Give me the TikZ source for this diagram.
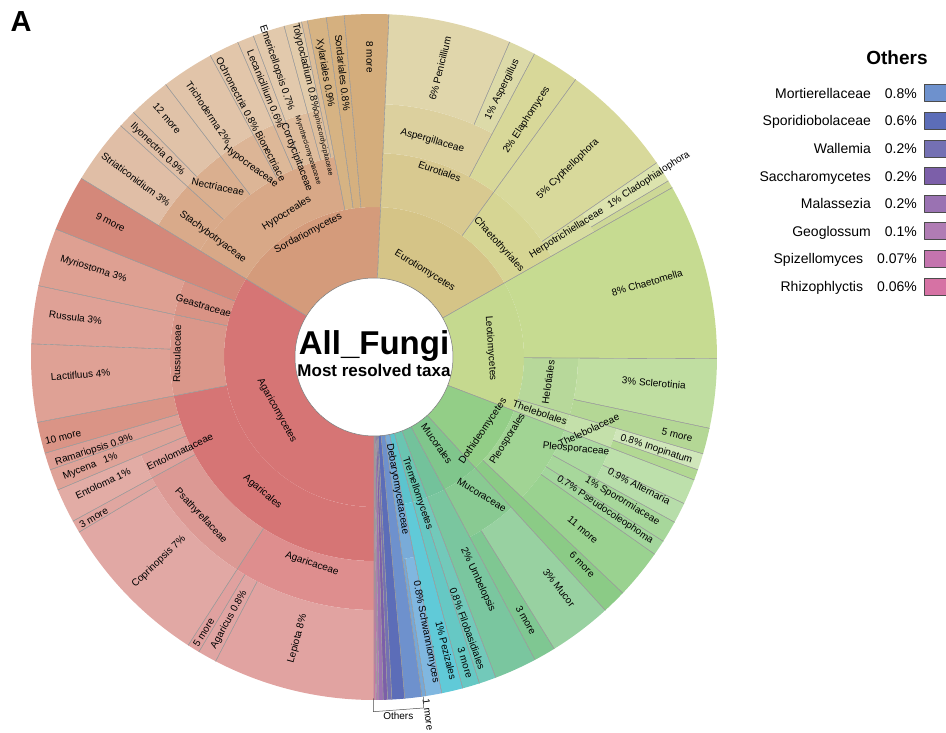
\documentclass[tikz,border=0pt]{standalone}
\usepackage{fontspec}
\setmainfont{Liberation Sans}
\begin{document}
\begin{tikzpicture}[x=1pt, y=1pt, line join=round,
  lab/.style={font=\fontsize{10}{12}\selectfont, inner sep=0pt},
  tinylab/.style={font=\fontsize{7}{8}\selectfont, inner sep=0pt},
  sep/.style={draw=black!40, line width=0.35pt}]
\useasboundingbox (-374,-376) rectangle (572,357);
\def\sectors{270/148.6/79/150/D67575, 270/191/150/204/D67575, 270/237.2/204/253/DE8E8E,
 270/242.5/253/343/E1A3A1, 242.5/239.3/253/343/E0A4A2, 239.3/237.2/253/343/E0A19F,
 237.2/208.6/204/253/DC9994, 237.2/210.7/253/343/E1A8A4, 210.7/208.6/253/343/E0A6A0,
 208.6/202.8/204/253/DFA19B, 208.6/202.8/253/343/E2ACA5, 202.8/199.2/204/343/DFA398,
 199.2/196.3/204/343/DE9F95, 196.3/191/204/343/DA9486, 191/168/150/204/DA978A,
 191/177.8/204/343/DFA195, 177.8/168/204/343/DFA196, 168/158.1/150/204/D99385,
 168/158.1/204/343/DEA092, 158.1/148.6/150/343/D4887A,
 148.6/87.5/79/150/D49B7B, 148.6/101.2/150/204/D8A887, 148.6/137.6/204/253/D9AA8A,
 148.6/137.6/253/343/E0BEA6, 137.6/127.4/204/253/DAAF8F, 137.6/134.5/253/343/E0BFA6,
 134.5/127.4/253/343/E0C2A8, 127.4/118.5/204/253/DCB596, 127.4/118.5/253/343/E1C4A9,
 118.5/113.4/204/253/DDB898, 118.5/113.4/253/343/E2C6AA, 113.4/110.6/204/253/DDB99A,
 113.4/110.6/253/343/E2C7AB, 110.6/105.2/204/253/DEBC9C, 110.6/105.2/253/343/E2C9AC,
 105.2/102.2/204/253/DEBE9C, 105.2/102.2/253/343/E2CBAA, 102.2/101.2/204/343/DCBD98,
 101.2/98/150/343/D6B383, 98/95/150/343/D5B07F, 95/87.5/150/343/D4AD7C,
 87.5/29.6/79/150/D5C487, 87.5/54/150/204/D8C990, 87.5/62.1/204/253/DCD09E,
 87.5/66.7/253/343/E0D6AB, 66.7/62.1/253/343/DCDAA8, 62.1/54/204/343/D8D899,
 54/29.6/150/204/D6D593, 54/34.5/204/343/D8D99B, 34.5/29.6/204/253/D7DCA0,
 34.5/30.9/253/343/DCE3AE, 30.9/29.6/253/343/CDD896,
 29.6/-21/79/150/C5D98F, 29.6/-0.3/150/343/C6DB91, -0.3/-16.4/150/204/B7D89A,
 -0.3/-12/204/343/C0DEA1, -12/-16.4/204/343/B4D795, -16.4/-21/150/204/BEDCA2,
 -16.4/-21/204/253/C4E0AA, -16.4/-19.2/253/343/D0E6BA, -19.2/-21/253/343/B2D893,
 -21/-47.6/79/150/93CE87, -21/-43.5/150/204/A1D494, -21/-28.8/204/253/ACD9A0,
 -21/-25.3/253/343/BDE0AB, -25.3/-28.8/253/343/B7DDAA, -28.8/-32.5/204/343/A7D79B,
 -32.5/-35.1/204/343/A3D69C, -35.1/-43.5/204/343/9AD290, -43.5/-47.6/150/343/8BCB86,
 -47.6/-62/79/150/80C68C, -47.6/-62/150/204/89CA92, -47.6/-58.3/204/343/98D1A1,
 -58.3/-62/204/343/7FC792, -62/-69.2/79/150/73C29B, -62/-69.2/150/343/7AC69F,
 -69.2/-75/79/150/6AC5B1, -69.2/-72.1/150/343/72C9BA, -72.1/-75/150/343/66C8C4,
 -75/-78.6/79/150/5CC4CE, -75/-78.6/150/343/60CAD8, -78.6/-81.97/79/204/79ABD8,
 -78.6/-81.3/204/343/80B7E0, -81.3/-81.97/204/343/76A8D8,
 -81.97/-84.85/79/343/6E91CD, -84.85/-87.01/79/343/5C6DB8, -87.01/-87.73/79/343/7470B3,
 -87.73/-88.45/79/343/7C5FA9, -88.45/-89.17/79/343/9A72B2, -89.17/-89.53/79/343/B07CB4,
 -89.53/-89.78/79/343/C474AE, -89.78/-90/79/343/D672A4}
\foreach \a/\b/\ri/\ro/\c in \sectors {
  \edef\setc{\noexpand\definecolor{sc}{HTML}{\c}}\setc
  \fill[sc] (\a:\ri) arc[start angle=\a, end angle=\b, radius=\ri] -- (\b:\ro) arc[start angle=\b, end angle=\a, radius=\ro] -- cycle;
}
\foreach \a/\b/\ri/\ro/\c in \sectors
  \draw[sep] (\a:\ri) -- (\a:\ro) (\b:\ri) -- (\b:\ro);
\draw[fill=white, draw=black!55, line width=0.5pt] (0,0) circle[radius=79];
\node[font=\fontsize{33}{36}\selectfont\bfseries, anchor=base] (root) at (0,2) {All\_Fungi};
\node[font=\fontsize{17}{20}\selectfont\bfseries, anchor=base] (taxa) at (0,-20) {Most resolved taxa};
\foreach \n/\a/\r/\t/\s in {agaricomycetes/208.9/111/-61/Agaricomycetes, agaricales/230.4/175/-40/Agaricales,
  agaricaceae/253.3/216/-19/Agaricaceae, lepiota/254.8/292/75/Lepiota 8\%, agaricus/241.1/300/61/Agaricus 0.8\%,
  morefivea/238.3/324/58/5 more, coprinopsis/223.6/297/43.6/Coprinopsis 7\%, psathyrellaceae/222.5/235/-47/Psathyrellaceae,
  morethreea/209.8/323/30/3 more, entolomataceae/206/216/26/Entolomataceae, entoloma/205/299/25/Entoloma 1\%,
  mycena/201.1/304/21/Mycena\ \ \ 1\%, ramariopsis/198.4/295/18/Ramariopsis 0.9\%, moreten/194.4/321/14/10 more,
  lactifluus/183.5/294/4.5/Lactifluus 4\%, russula/172.5/301/-7.5/Russula 3\%, russulaceae/179.1/197/89/Russulaceae,
  myriostoma/162.6/294/-17.4/Myriostoma 3\%, geastraceae/163.3/178/-16.7/Geastraceae, morenine/152.9/296/-27/9 more,
  striaticonidium/143.3/297/-36.7/Striaticonidium 3\%, stachybotryaceae/143.3/201/-36.7/Stachybotryaceae,
  nectriaceae/132.5/231/-12/Nectriaceae, ilyonectria/136.2/300/-43.8/Ilyonectria 0.9\%, moretwelve/130.9/316/-49/12 more,
  trichoderma/124.1/295/-56/Trichoderma 2\%, hypocreaceae/122.9/227/-36/Hypocreaceae,
  ochronectria/117.4/296/-62.6/Ochronectria 0.8\%, bionectriaceae/117.2/226/-62.8/Bionectriace,
  lecanicillium/112/289/-68/Lecanicillium 0.6\%, cordycipitaceae/111.2/214/-68.8/Cordycipitaceae,
  emericellopsis/108.6/305/-71.4/Emericellopsis 0.7\%, tolypocladium/103.3/298/-76.7/Tolypocladium 0.8\%,
  xylariales/99.8/288/-80.2/Xylariales 0.9\%, sordariales/96.3/286/-83.7/Sordariales 0.8\%, moreeight/90.8/300/-89.2/8 more,
  hypocreales/121.3/168/32/Hypocreales, sordariomycetes/118/140/28/Sordariomycetes,
  eurotiomycetes/59.5/100/-32/Eurotiomycetes, eurotiales/70.5/197/-20/Eurotiales, aspergillaceae/74.9/224/-16/Aspergillaceae,
  penicillium/77.1/296/76/6\% Penicillium, aspergillus/64.4/297/64/1\% Aspergillus, elaphomyces/57.2/282/57/2\% Elaphomyces,
  chaetothyriales/42/168/-48/Chaetothyriales, cyphellophora/44.1/270/44/5\% Cyphellophora,
  herpotrichiellaceae/32.7/229/32/Herpotrichiellaceae, cladophialophora/32.8/327/33/1\% Cladophialophora,
  chaetomella/15.2/283/16/8\% Chaetomella, leotiomycetes/4.3/117/-86/Leotiomycetes, sclerotinia/-5.3/281/-5/3\% Sclerotinia,
  helotiales/-8.2/176/82/Helotiales, morefiveb/-14.4/313/-14/5 more, thelebolales/-18.6/175/-19/Thelebolales,
  thelebolaceae/-18.8/227/25/Thelebolaceae, inopinatum/-18.1/297/-18/0.8\% Inopinatum,
  pleosporaceae/-24.5/222/-5/Pleosporaceae, alternaria/-26/295/-27/0.9\% Alternaria,
  sporormiaceae/-30.1/287/-31/1\% Sporormiaceae, pseudocoleophoma/-33.5/277/-34/0.7\% Pseudocoleophoma,
  moreeleven/-39.6/271/-40/11 more, moresix/-44.9/294/-45/6 more, pleosporales/-31.5/157/58/Pleosporales,
  dothideomycetes/-34.2/132/56/Dothideomycetes, mucor/-51.3/296/-52/3\% Mucor, mucoraceae/-52/175/-31/Mucoraceae,
  mucorales/-54/107/-55/Mucorales, morethreeb/-60/304/-61/3 more, umbelopsis/-65/246/-65/2\% Umbelopsis,
  filobasidiales/-71/287/-70/0.8\% Filobasidiales, morethreec/-73.4/319/-73/3 more,
  tremellomycetes/-72.3/143/-71/Tremellomycetes, pezizales/-76.2/302/-76/1\% Pezizales,
  schwanniomyces/-79.3/280/-79/0.8\% Schwanniomyces, debaryomycetaceae/-79.9/134/-80/Debaryomycetaceae,
  moreone/-81.4/362/-82/1 more}
  \node[lab, rotate=\t] (\n) at (\a:\r) {\s};
\node[tinylab, rotate=-72.3] (myrothecio) at (107.7:217) {Myrotheciomycetaceae};
\node[tinylab, rotate=-76.6] (ophiocordy) at (103.4:220) {Ophiocordycipitaceae};
\coordinate (brLt) at (-0.7,-341.3);
\coordinate (brLb) at (-0.7,-354.7);
\coordinate (brRb) at (49.3,-351);
\coordinate (brRt) at (49.3,-339.7);
\draw[black!70, line width=0.5pt] (brLt) -- (brLb) -- (brRb) -- (brRt);
\node[lab, anchor=north] (othersbr) at (24.3,-355.5) {Others};
\node[font=\fontsize{19}{22}\selectfont\bfseries] (legtitle) at (523,299) {Others};
\foreach \n/\p/\c [count=\i] in {Mortierellaceae/0.8/6E91CD, Sporidiobolaceae/0.6/5C6DB8, Wallemia/0.2/7470B3,
  Saccharomycetes/0.2/7C5FA9, Malassezia/0.2/9A72B2, Geoglossum/0.1/B07CB4, Spizellomyces/0.07/C474AE,
  Rhizophlyctis/0.06/D672A4} {
  \edef\setc{\noexpand\definecolor{sc}{HTML}{\c}}\setc
  \pgfmathsetmacro\yy{263.7-27.6*(\i-1)}
  \node[font=\fontsize{14}{16}\selectfont, anchor=base east, inner sep=0pt] (leg\i) at (543,\yy-5) {\n\quad\p\%};
  \draw[fill=sc, draw=black!70, line width=0.6pt] (550.5,\yy-8.5) rectangle (580,\yy+8.5);
}
\node[font=\fontsize{29}{32}\selectfont\bfseries] (panel) at (-353,335) {A};
\end{tikzpicture}
\end{document}
